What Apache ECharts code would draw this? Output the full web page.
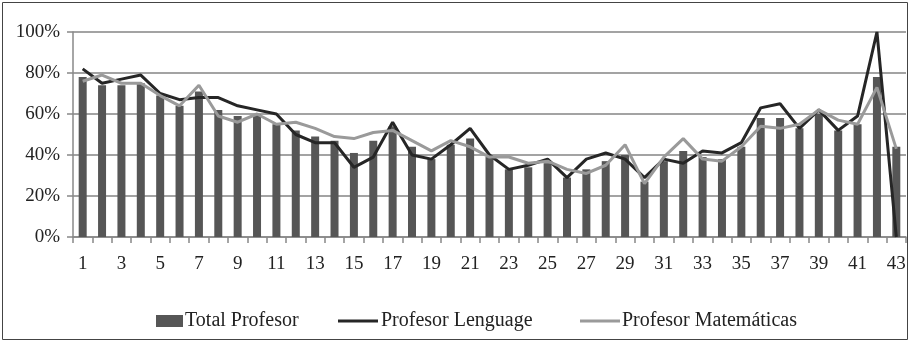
<!DOCTYPE html>
<html>
<head>
<meta charset="utf-8">
<script src="https://cdn.jsdelivr.net/npm/echarts@6/dist/echarts.min.js"></script>
<style>
html,body{margin:0;padding:0;background:#fff;}
#c{width:910px;height:342px;}
</style>
</head>
<body>
<div id="c"></div>
<script>
var categories = [];
for (var i = 1; i <= 43; i++) categories.push(String(i));
var totalProfesor = [78,74,74,75,69,64,71,62,59,60,55,52,49,47,41,47,54,44,38,45,48,39,33,34,36,29,33,37,40,27,37,42,39,38,44,58,58,53,60,52,55,78,44];
var profLenguage = [82,75,77,79,70,67,68,68,64,62,60,50,46,46,34,39,56,40,38,45,53,40,33,35,38,29,38,41,38,29,38,36,42,41,46,63,65,53,62,52,59,100,0];
var profMatematicas = [76,79,75,75,69,64,74,59,56,60,55,56,53,49,48,51,52,47,42,47,44,39,39,36,37,33,31,35,45,26,39,48,38,37,44,54,53,55,62,57,55,73,43];
var yTicks = [0,20,40,60,80,100];

var FONT = '"Liberation Serif", "DejaVu Serif", serif';
var LINE_ICON = 'path://M0,0L0.01,0L0.01,0.01Z M0,4.4H40V7.6H0Z M40,12L39.99,12L39.99,11.99Z';
function leg(name, left, w, icon) {
  return {
    left:left, top:306, itemWidth:w, itemHeight:12, itemGap:0,
    textStyle:{fontFamily:FONT, fontSize:20, color:'#222', padding:[0,0,0,-3]},
    data:[{name:name, icon:icon}]
  };
}
var chart = echarts.init(document.getElementById('c'), null, {renderer:'canvas'});
chart.setOption({
  animation:false,
  textStyle:{fontFamily:FONT},
  graphic:[{type:'rect', shape:{x:2.5,y:2.5,width:905,height:337}, style:{fill:'none', stroke:'#444', lineWidth:1}, silent:true, z:-1}],
  grid:{left:73, right:4, top:32, bottom:105, containLabel:false},
  legend:[
    leg('Total Profesor', 151, 27, 'rect'),
    leg('Profesor Lenguage', 333, 42, LINE_ICON),
    leg('Profesor Matemáticas', 575, 40, LINE_ICON)
  ],
  xAxis:{
    type:'category', data:categories, boundaryGap:true,
    axisLine:{lineStyle:{color:'#888', width:1.5}},
    axisTick:{show:true, interval:0, length:6, lineStyle:{color:'#888', width:1.5}},
    axisLabel:{interval:1, fontFamily:FONT, fontSize:19, color:'#222', margin:18},
    splitLine:{show:false}
  },
  yAxis:{
    type:'value', min:0, max:100, interval:20,
    axisLine:{show:true, lineStyle:{color:'#888', width:1.5}},
    axisTick:{show:true, length:6, lineStyle:{color:'#888', width:1.5}},
    axisLabel:{fontFamily:FONT, fontSize:19, color:'#222', margin:13, formatter:function(v){return yTicks.indexOf(v)>=0 ? v+'%' : '';}},
    splitLine:{lineStyle:{color:'#858585', width:1.5}}
  },
  series:[
    {name:'Total Profesor', type:'bar', data:totalProfesor, barWidth:8, itemStyle:{color:'#565656'}},
    {name:'Profesor Lenguage', type:'line', data:profLenguage, symbol:'none', lineStyle:{color:'#262626', width:3}, itemStyle:{color:'#262626'}, z:3},
    {name:'Profesor Matemáticas', type:'line', data:profMatematicas, symbol:'none', lineStyle:{color:'#9a9a9a', width:3}, itemStyle:{color:'#9a9a9a'}, z:4}
  ]
});
</script>
</body>
</html>
